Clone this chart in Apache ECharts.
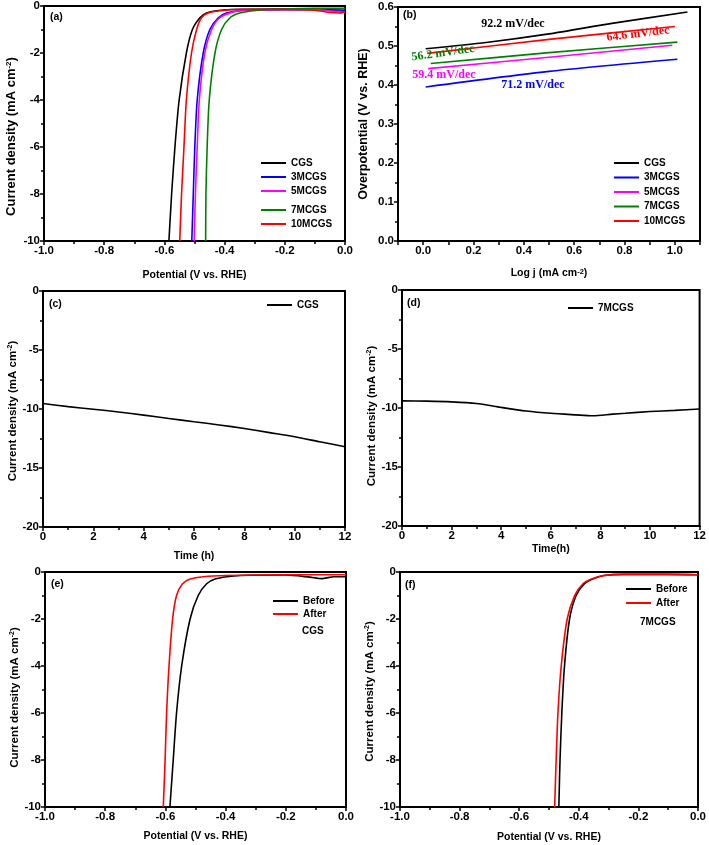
<!DOCTYPE html>
<html>
<head>
<meta charset="utf-8">
<script src="https://cdn.jsdelivr.net/npm/echarts@6/dist/echarts.min.js"></script>
<style>
  html, body { margin: 0; padding: 0; background: #fff; }
  #chart { width: 709px; height: 845px; }
</style>
</head>
<body>
<div id="chart"></div>
<script>
// (a) LSV curves, [potential V, current density mA cm-2]
var lsvCGS = [[-0.585,-10],[-0.576,-8],[-0.565,-6],[-0.551,-4],[-0.527,-2],[-0.507,-1],[-0.482,-0.5],[-0.46,-0.3],[-0.427,-0.2],[-0.38,-0.15],[-0.2,-0.13],[-0.1,-0.14],[0,-0.18]];
var lsv3M = [[-0.509,-10],[-0.504,-8],[-0.499,-6],[-0.491,-4],[-0.471,-2],[-0.449,-1],[-0.421,-0.5],[-0.394,-0.3],[-0.35,-0.2],[-0.3,-0.17],[-0.1,-0.16],[0,-0.2]];
var lsv5M = [[-0.501,-10],[-0.497,-8],[-0.491,-6],[-0.484,-4],[-0.466,-2],[-0.443,-1],[-0.416,-0.5],[-0.371,-0.25],[-0.33,-0.18],[-0.1,-0.15],[-0.04,-0.22],[0,-0.25]];
var lsv7M = [[-0.463,-10],[-0.462,-8],[-0.458,-6],[-0.451,-4],[-0.432,-2],[-0.41,-1],[-0.382,-0.5],[-0.35,-0.3],[-0.305,-0.2],[-0.25,-0.15],[-0.1,-0.1],[0,-0.1]];
var lsv10M = [[-0.549,-10],[-0.543,-8],[-0.535,-6],[-0.527,-4],[-0.51,-2],[-0.493,-1],[-0.477,-0.5],[-0.455,-0.3],[-0.416,-0.2],[-0.35,-0.15],[-0.2,-0.15],[-0.1,-0.18],[-0.05,-0.28],[-0.02,-0.3],[0,-0.25]];

// (b) Tafel plots, [log j, overpotential V]
var tafelCGS = [[0.01,0.493],[0.25,0.509],[0.5,0.531],[0.75,0.558],[1.05,0.587]];
var tafel3M = [[0.01,0.395],[0.5,0.435],[1.01,0.466]];
var tafel5M = [[0.02,0.442],[0.5,0.471],[0.99,0.502]];
var tafel7M = [[0.03,0.455],[0.5,0.483],[1.01,0.510]];
var tafel10M = [[0.016,0.481],[0.5,0.517],[1.0,0.550]];
var tafelSlopes = ['92.2 mV/dec', '71.2 mV/dec', '59.4 mV/dec', '56.2 mV/dec', '64.6 mV/dec'];

// (c), (d) stability at constant potential
var timeHours = [0,1,2,3,4,5,6,7,8,9,10,11,12];
var stabCGS = [-9.53,-9.8,-10.02,-10.25,-10.52,-10.8,-11.08,-11.35,-11.65,-12.0,-12.35,-12.78,-13.2];
var timeHours7M = [0,1,2,3,4,5,6,7,7.7,8.5,9,10,11,12];
var stab7M = [-9.4,-9.42,-9.48,-9.62,-9.95,-10.25,-10.45,-10.58,-10.66,-10.52,-10.45,-10.3,-10.2,-10.08];

// (e), (f) LSV before / after stability test
var cgsBefore = [[-0.585,-10],[-0.574,-8],[-0.563,-6],[-0.546,-4],[-0.518,-2],[-0.491,-1],[-0.463,-0.5],[-0.435,-0.3],[-0.396,-0.2],[-0.35,-0.15],[-0.2,-0.13],[-0.12,-0.22],[-0.08,-0.28],[-0.04,-0.2],[0,-0.2]];
var cgsAfter = [[-0.607,-10],[-0.601,-8],[-0.596,-6],[-0.588,-4],[-0.576,-2],[-0.563,-1],[-0.543,-0.5],[-0.518,-0.3],[-0.474,-0.2],[-0.4,-0.15],[-0.2,-0.12],[0,-0.12]];
var m7Before = [[-0.467,-10],[-0.463,-8],[-0.457,-6],[-0.448,-4],[-0.431,-2],[-0.409,-1],[-0.381,-0.5],[-0.354,-0.3],[-0.315,-0.15],[-0.25,-0.1],[-0.1,-0.1],[0,-0.12]];
var m7After = [[-0.481,-10],[-0.476,-8],[-0.47,-6],[-0.459,-4],[-0.439,-2],[-0.414,-1],[-0.386,-0.5],[-0.357,-0.3],[-0.317,-0.15],[-0.25,-0.1],[-0.1,-0.1],[0,-0.12]];

var FONT = 'Liberation Sans';
var SERIF = 'Liberation Serif';
var BLACK = '#000000', BLUE = '#0000ff', MAGENTA = '#ff00ff', GREEN = '#008000', RED = '#ff0000';

var myChart = echarts.init(document.getElementById('chart'));

function pairs(xs, ys) {
  return xs.map(function (x, i) { return [x, ys[i]]; });
}

function xAxisFor(gridIndex, min, max, interval, name, nameGap, digits) {
  return {
    type: 'value', gridIndex: gridIndex, min: min, max: max, interval: interval,
    name: name, nameLocation: 'middle', nameGap: nameGap,
    nameTextStyle: { fontFamily: FONT, fontWeight: 'bold', fontSize: 10.5, color: '#000',
      rich: {
        t: { fontFamily: FONT, fontWeight: 'bold', fontSize: 10.5, color: '#000' },
        s: { fontFamily: FONT, fontWeight: 'bold', fontSize: 7.5, color: '#000', verticalAlign: 'top', lineHeight: 8 }
      } },
    axisLine: { onZero: false, lineStyle: { color: '#000', width: 2 } },
    axisTick: { show: true, inside: false, length: 4, lineStyle: { color: '#000', width: 1.5 } },
    minorTick: { show: true, splitNumber: 2, length: 3, lineStyle: { color: '#000', width: 1.5 } },
    splitLine: { show: false },
    axisLabel: { fontFamily: FONT, fontWeight: 'bold', fontSize: 11.5, color: '#000', margin: 4,
      formatter: function (v) { return digits ? v.toFixed(digits) : String(Math.round(v)); } }
  };
}

// shiftDown moves the rotated title down along the axis (px)
function yAxisFor(gridIndex, min, max, interval, name, nameGap, digits, size, shiftDown) {
  var ax = xAxisFor(gridIndex, min, max, interval, name, nameGap, digits);
  ax.nameRotate = 90;
  ax.nameTextStyle.rich.t.fontSize = size;
  ax.nameTextStyle.rich.s.fontSize = Math.round(size * 0.65);
  ax.nameTextStyle.fontSize = size;
  if (shiftDown) ax.nameTextStyle.padding = [0, shiftDown * 2, 0, 0];
  return ax;
}

var yTitleJ = '{t|Current density (mA cm}{s|-2}{t|)}';

var grids = [
  { left: 44, top: 6, width: 301, height: 235 },
  { left: 398, top: 7, width: 302, height: 234 },
  { left: 43, top: 291, width: 302, height: 236 },
  { left: 402, top: 290, width: 301, height: 236 },
  { left: 45, top: 572, width: 301, height: 235 },
  { left: 400, top: 572, width: 302, height: 235 }
].map(function (g) {
  g.show = true; g.borderColor = '#000'; g.borderWidth = 2; g.backgroundColor = 'transparent';
  return g;
});

var tafelX = xAxisFor(1, -0.1, 1.1, 0.1, '{t|Log j (mA cm}{s|-2}{t|)}', 27, 1);
tafelX.minorTick.show = false;
tafelX.axisLabel.formatter = function (v) {
  var k = Math.round(v * 10);
  return (k >= 0 && k <= 10 && k % 2 === 0) ? (k / 10).toFixed(1) : '';
};

var xAxes = [
  xAxisFor(0, -1, 0, 0.2, '{t|Potential (V vs. RHE)}', 29, 1),
  tafelX,
  xAxisFor(2, 0, 12, 2, '{t|Time (h)}', 24, 0),
  xAxisFor(3, 0, 12, 2, '{t|Time(h)}', 18, 0),
  xAxisFor(4, -1, 0, 0.2, '{t|Potential (V vs. RHE)}', 24, 1),
  xAxisFor(5, -1, 0, 0.2, '{t|Potential (V vs. RHE)}', 25, 1)
];

var yAxes = [
  yAxisFor(0, -10, 0, 2, yTitleJ, 26, 0, 13, 13),
  yAxisFor(1, 0, 0.6, 0.1, '{t|Overpotential (V vs. RHE)}', 28, 1, 12.5, 0),
  yAxisFor(2, -20, 0, 5, yTitleJ, 23, 0, 11.5, 2),
  yAxisFor(3, -20, 0, 5, yTitleJ, 22, 0, 11.5, 8),
  yAxisFor(4, -10, 0, 2, yTitleJ, 19, 0, 11.5, 8),
  yAxisFor(5, -10, 0, 2, yTitleJ, 19, 0, 11.5, 2)
];

function line(name, data, color, idx) {
  return {
    type: 'line', name: name, data: data, xAxisIndex: idx, yAxisIndex: idx,
    showSymbol: false, symbol: 'none', smooth: 0.25,
    lineStyle: { color: color, width: 1.6 }, itemStyle: { color: color },
    emphasis: { disabled: true }, animation: false, clip: true
  };
}

var series = [
  line('CGS', lsvCGS, BLACK, 0),
  line('3MCGS', lsv3M, BLUE, 0),
  line('5MCGS', lsv5M, MAGENTA, 0),
  line('7MCGS', lsv7M, GREEN, 0),
  line('10MCGS', lsv10M, RED, 0),
  line('CGS', tafelCGS, BLACK, 1),
  line('3MCGS', tafel3M, BLUE, 1),
  line('5MCGS', tafel5M, MAGENTA, 1),
  line('7MCGS', tafel7M, GREEN, 1),
  line('10MCGS', tafel10M, RED, 1),
  line('CGS', pairs(timeHours, stabCGS), BLACK, 2),
  line('7MCGS (d)', pairs(timeHours7M, stab7M), BLACK, 3),
  line('Before', cgsBefore, BLACK, 4),
  line('After', cgsAfter, RED, 4),
  line('Before', m7Before, BLACK, 5),
  line('After', m7After, RED, 5)
];

function legendAt(left, top, names, gap) {
  return {
    orient: 'vertical', left: left, top: top, data: names, itemGap: gap,
    icon: 'rect', itemWidth: 25, itemHeight: 2, padding: 0, selectedMode: false,
    textStyle: { fontFamily: FONT, fontWeight: 'bold', fontSize: 10, color: '#000', lineHeight: 12 },
    formatter: function (n) { return n.replace(' (d)', ''); }
  };
}

var legends = [
  legendAt(261, 157, ['CGS', '3MCGS', '5MCGS'], 2),
  legendAt(261, 204, ['7MCGS', '10MCGS'], 2),
  legendAt(614, 157, ['CGS', '3MCGS', '5MCGS', '7MCGS', '10MCGS'], 2.5),
  legendAt(267, 299, ['CGS'], 2),
  legendAt(568, 302, ['7MCGS (d)'], 2),
  legendAt(273, 595, ['Before', 'After'], 1),
  legendAt(626, 583, ['Before', 'After'], 2)
];

function txt(x, y, text, opts) {
  opts = opts || {};
  return {
    type: 'text', x: x, y: y, rotation: opts.rotation || 0, z: 100,
    style: {
      text: text, fill: opts.color || '#000',
      font: (opts.serif ? 'bold 12px "' + SERIF + '"' : 'bold ' + (opts.size || 10.5) + 'px "' + FONT + '"'),
      textAlign: opts.align || 'left', textVerticalAlign: 'middle'
    }
  };
}

var graphics = [
  txt(50, 17, '(a)'),
  txt(403, 15, '(b)'),
  txt(49, 304, '(c)'),
  txt(407, 303, '(d)'),
  txt(51, 584, '(e)'),
  txt(405, 585, '(f)'),
  txt(302, 631, 'CGS', { size: 10 }),
  txt(640, 622, '7MCGS', { size: 10 }),
  txt(513, 24, tafelSlopes[0], { serif: true, align: 'center' }),
  txt(533, 85, tafelSlopes[1], { serif: true, align: 'center', color: BLUE }),
  txt(444, 75, tafelSlopes[2], { serif: true, align: 'center', color: MAGENTA }),
  txt(443, 53, tafelSlopes[3], { serif: true, align: 'center', color: GREEN, rotation: 0.14 }),
  txt(638, 34, tafelSlopes[4], { serif: true, align: 'center', color: RED, rotation: 0.12 })
];

myChart.setOption({
  animation: false,
  backgroundColor: '#ffffff',
  grid: grids,
  xAxis: xAxes,
  yAxis: yAxes,
  legend: legends,
  series: series,
  graphic: graphics
});
</script>
</body>
</html>
